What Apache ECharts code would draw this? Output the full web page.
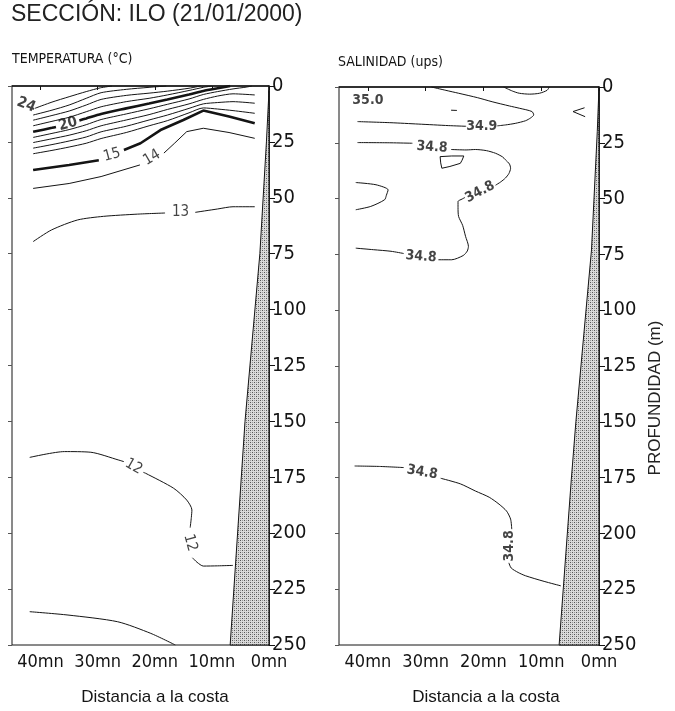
<!DOCTYPE html>
<html><head><meta charset="utf-8">
<script src="https://cdn.jsdelivr.net/npm/echarts@6/dist/echarts.min.js"></script>
<style>html,body{margin:0;padding:0;background:#fff}#c{width:675px;height:711px}</style>
</head><body><div id="c"></div>
<script>
// ---------- DATA (distance to coast in nautical miles, depth in m) ----------
const distTicks = [0, 10, 20, 30, 40];
const distUnit = 'mn';

// Temperature isolines (each: list of segments, broken where a label sits)
const T24 = [[[41.0,10.0],[38.0,7.2],[35.0,4.8],[32.0,2.5],[29.5,0.8],[27.5,0]]];
const T23 = [[[41.3,13.0],[38,10.8],[35,8.5],[32,5.5],[29.4,3.0],[25,1.5],[21,0.6],[18,0]]];
const T22 = [[[41.3,15.3],[38,13.2],[35,11.2],[32,8.5],[29.4,6.0],[25,4.2],[21,3.2],[17.8,2.3],[14,1.0],[12,0]]];
const T21 = [[[41.3,17.8],[38,15.8],[35,14.0],[32,11.5],[29.4,9.3],[25,7.0],[21,5.5],[17.8,4.0],[14,2.0],[11.5,0.6],[10,0]]];
const T20 = [[[41.3,20.5],[38,18.7],[37.3,18.3]],
             [[33.2,15.4],[32,14.5],[29.4,12.5],[25,10.0],[21,7.8],[17.8,6.0],[14,3.8],[11.5,2.2],[9,1.0],[6.8,0]]];
const T19 = [[[41.3,23.0],[38,21.2],[35,19.5],[32,17.3],[29.4,15.0],[25,12.5],[21,10.2],[17.8,8.2],[14,5.8],[11.5,3.8],[9,2.5],[6.3,1.3],[4,0.5],[3,0]]];
const T18 = [[[41.3,25.3],[38,23.6],[35,22.0],[32,20.0],[29.4,17.8],[25,15.2],[21,12.8],[17.8,10.5],[14,8.0],[11.5,6.0],[9,4.5],[6.3,3.5],[2.5,4.0]]];
const T17 = [[[41.3,27.8],[38,26.2],[35,24.6],[32,22.8],[29.4,20.5],[25,18.0],[21,15.2],[17.8,13.0],[14,10.0],[11.5,8.0],[9,7.4],[6.3,7.0],[2.5,7.7]]];
const T16 = [[[41.3,30.3],[38,28.8],[35,27.3],[32,25.6],[29.4,23.5],[25,20.8],[21,17.8],[17.8,15.5],[14,12.0],[11.5,9.8],[9,10.3],[6.3,11.0],[2.5,12.2]]];
const T15 = [[[41.3,37.6],[35,35.3],[29.8,33.2]],
             [[25.4,28.6],[22.5,25.6],[19.0,19.7],[15,15.2],[11.5,11.0],[7,13.6],[2.5,16.7]]];
const T14 = [[[41.3,45.8],[35,43.6],[29.4,40.5],[22.6,35.3]],
             [[18.4,30.0],[16.5,25.5],[14.4,20.4],[11.5,18.9],[7,20.8],[2.5,23.4]]];
const T13 = [[[41.3,69.6],[38.1,64.4],[33.5,59.9],[29,58.3],[23,57.3],[18.2,56.8]],
             [[12.9,56.5],[9,55.0],[6.3,54.0],[2.5,54.0]]];
const T12 = [[[41.9,166.1],[35.8,163.5],[31.2,163.8],[26.3,167.3],[25.4,168.0]],
             [[22.0,172.8],[21.6,173.2],[16.7,179.9],[14.4,185.2],[13.5,189.6],[13.6,193],[13.8,197.5]],
             [[13.4,211.0],[12.6,213],[11.5,214.7],[9,214.6],[6.3,214.4]]];
const T11 = [[[41.9,235.1],[35.2,236.6],[26.5,239.6],[20.7,244.8],[16.4,250]]];
const tempLabels = [[42.5,8.5,'24'],[35.2,17.0,'20'],[27.5,30.9,'15'],[20.5,32.0,'14'],[15.5,56.4,'13'],[23.7,170.2,'12'],[13.8,204.3,'12']];

// Salinity isolines
const S350 = [[[16.5,0],[15,1.8],[13.8,2.8],[12,3.2],[10.3,2.8],[9,1.5],[8.6,0]]];
const S349 = [[[29.0,0],[26.5,1.5],[24.3,2.8],[21,4.8],[18.5,6.6],[15.5,8.5],[13.8,9.5],[11.6,11.0],[11.3,12.5],[11.8,13.8],[12.7,15.1],[14.5,16.3],[16.2,17.0],[17.6,17.4]],
              [[23.0,17.6],[26,17.3],[31.3,16.6],[36,16.0],[41.8,15.5]]];
const S349b = [[[25.6,10.4],[24.6,10.5]]];
const S349c = [[[2.5,9.3],[4.5,11.0],[2.4,13.3]]];
const S348 = [[[41.8,24.9],[36,25.0],[32.3,25.2]],
              [[25.6,28.0],[23,28.2],[21.4,28.0],[19.5,28.5],[17.9,29.7],[16.7,31.3],[16.2,32.6],[15.5,34.5],[15.3,36.4],[15.6,38.8],[16.2,40.8],[17.0,42.5],[17.9,44.0]],
              [[23.2,49.5],[23.7,50.2],[24.4,51.3],[24.4,54],[24.3,58.0],[23.6,62],[23.1,66.9],[22.6,71.4],[22.8,73.5],[23.5,75.5],[25.5,77.4],[27.8,77.4]],
              [[33.8,74.6],[36,73.6],[39,72.9],[42.1,72.2]]];
const S348b = [[[27.5,31.2],[25.5,30.9],[23.4,30.9],[23.7,32.8],[24.0,34.2],[25.8,35.6],[27.2,36.4],[27.4,34],[27.5,31.2]]];
const S348c = [[[42.1,42.8],[38.6,43.8],[36.5,46.1],[36.8,48.5],[37.1,50.5],[39.5,53.5],[42.1,55.0]]];
const S348d = [[[42.3,169.8],[38,170.0],[33.8,170.5]],
               [[27.4,175.3],[24,177.8],[21.4,181.0],[19,183.8],[17.3,186.9],[16,190],[15.3,193.6],[15.1,198.1]],
               [[15.6,213.2],[15.2,215.5],[14,217.5],[12.7,219.0],[9.5,221.5],[6.6,223.5]]];
const salLabels = [[40.0,5.8,'35.0'],[20.3,17.8,'34.9'],[28.9,27.0,'34.8'],[20.6,47.0,'34.8'],[30.8,76.0,'34.8'],[30.6,172.6,'34.8'],[15.5,205.6,'34.8']];

// Sea floor (shaded) profiles
const seabedTemp = [[0,2],[0.45,25],[1.6,75],[4.2,150],[6.8,250],[0,250]];
const seabedSal = [[0,0],[0.3,20],[1.3,73],[4.0,150],[4.8,176],[6.9,250],[0,250]];

// ---------- STYLING / CHART ----------
const FONT = "'Liberation Sans Narrow','Arial Narrow','DejaVu Sans Condensed','Liberation Sans',Arial,sans-serif";
const INK = '#141414';
const tempRot = [-22, 15, 15, 30, 0, -30, -75];
const tempBold = [true, true, false, false, false, false, false];
const salRot = [0, 0, -4, 28, -5, -10, 90];
const boldSets = new Set([T20, T15]);
const sharp = new Set([T15, T14, S349c, S348b]);

function pattern() {
  const c = document.createElement('canvas');
  c.width = 4; c.height = 4;
  const g = c.getContext('2d');
  g.fillStyle = '#dadada'; g.fillRect(0,0,4,4);
  g.fillStyle = '#555';
  g.fillRect(0,0,1,1); g.fillRect(2,2,1,1);
  g.fillStyle = '#999';
  g.fillRect(2,0,1,1); g.fillRect(0,2,1,1);
  return {image: c, repeat: 'repeat'};
}
const pat = pattern();

const series = [];
function addContours(list, idx) {
  list.forEach(segs => {
    segs.forEach(seg => {
      series.push({
        type: 'line', xAxisIndex: idx, yAxisIndex: idx * 2, data: seg,
        symbol: 'none', silent: true, animation: false, z: 3,
        smooth: sharp.has(segs) ? false : 0.25,
        lineStyle: {color: INK, width: boldSets.has(segs) ? 2.6 : 1}
      });
    });
  });
}
addContours([T24,T23,T22,T21,T20,T19,T18,T17,T16,T15,T14,T13,T12,T11], 0);
addContours([S350,S349,S349b,S349c,S348,S348b,S348c,S348d], 1);

function addLabels(labels, rots, idx, boldFn, size) {
  series.push({
    type: 'scatter', xAxisIndex: idx, yAxisIndex: idx * 2, symbolSize: 0, silent: true, animation: false, z: 5,
    data: labels.map((l, i) => ({
      value: [l[0], l[1]],
      label: {show: true, position: 'inside', formatter: l[2], rotate: rots[i],
              fontFamily: FONT, fontSize: size, fontWeight: boldFn(i) ? 'bold' : 'normal', color: INK}
    }))
  });
}
addLabels(tempLabels, tempRot, 0, i => tempBold[i], 15);
addLabels(salLabels, salRot, 1, i => true, 14);

function addSeabed(poly, idx) {
  series.push({
    type: 'custom', xAxisIndex: idx, yAxisIndex: idx * 2, data: [[0, 0]], silent: true, animation: false, z: 2,
    renderItem: (params, api) => ({
      type: 'polygon',
      shape: {points: poly.map(p => api.coord(p))},
      style: {fill: pat, stroke: INK, lineWidth: 1}
    })
  });
}
addSeabed(seabedTemp, 0);
addSeabed(seabedSal, 1);

const grids = [
  {left: 12, top: 86, width: 257, height: 559},
  {left: 339, top: 87, width: 260, height: 558}
];
function xAx(i) {
  return {
    type: 'value', gridIndex: i, min: 0, max: 45, inverse: true, position: 'bottom',
    axisLine: {show: true, lineStyle: {color: INK, width: 1.5}},
    axisTick: {show: true, inside: false, length: 4, customValues: distTicks, lineStyle: {color: INK}},
    axisLabel: {customValues: distTicks, formatter: v => v + distUnit, margin: 8,
                fontFamily: FONT, fontSize: 18, color: INK},
    splitLine: {show: false}
  };
}
function yAx(i) {
  return {
    type: 'value', gridIndex: i, min: 0, max: 250, interval: 25, inverse: true, position: 'right',
    axisLine: {show: true, lineStyle: {color: INK, width: 1.5}},
    axisTick: {show: true, inside: false, length: 6, lineStyle: {color: INK}},
    axisLabel: {margin: 3, fontFamily: FONT, fontSize: 20, color: INK},
    splitLine: {show: false}
  };
}
function yAxLeft(i) {
  return {
    type: 'value', gridIndex: i, min: 0, max: 250, interval: 25, inverse: true, position: 'left',
    axisLine: {show: false},
    axisTick: {show: true, inside: false, length: 4, lineStyle: {color: '#555'}},
    axisLabel: {show: false}, splitLine: {show: false}
  };
}

const chart = echarts.init(document.getElementById('c'), null, {renderer: 'canvas'});
chart.setOption({
  animation: false,
  backgroundColor: '#fff',
  grid: grids.map(g => Object.assign({show: true, borderColor: INK, borderWidth: 1, backgroundColor: 'transparent'}, g)),
  xAxis: [xAx(0), xAx(1)],
  yAxis: [yAx(0), yAxLeft(0), yAx(1), yAxLeft(1)],
  graphic: [
    {type: 'text', left: 11, top: 3, style: {text: 'SECCIÓN: ILO (21/01/2000)', font: "23px 'Liberation Sans', Arial, sans-serif", fill: '#222'}},
    {type: 'text', left: 12, top: 52, style: {text: 'TEMPERATURA (°C)', font: '14px ' + FONT, fill: INK}},
    {type: 'text', left: 338, top: 55, style: {text: 'SALINIDAD (ups)', font: '14px ' + FONT, fill: INK}},
    {type: 'text', x: 155, y: 697, style: {text: 'Distancia a la costa', font: "17px 'Liberation Sans', Arial, sans-serif", fill: INK, textAlign: 'center', textVerticalAlign: 'middle'}},
    {type: 'text', x: 486, y: 697, style: {text: 'Distancia a la costa', font: "17px 'Liberation Sans', Arial, sans-serif", fill: INK, textAlign: 'center', textVerticalAlign: 'middle'}},
    {type: 'text', x: 655, y: 398, rotation: Math.PI / 2, style: {text: 'PROFUNDIDAD (m)', font: "17px 'Liberation Sans', Arial, sans-serif", fill: '#222', textAlign: 'center', textVerticalAlign: 'middle'}}
  ],
  series: series
});
</script></body></html>
